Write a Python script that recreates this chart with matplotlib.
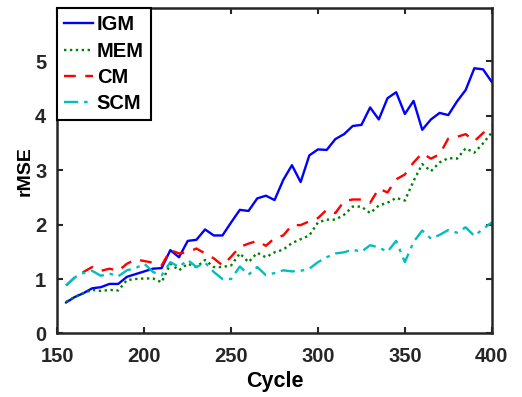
import matplotlib.pyplot as plt
import numpy as np

plt.rcParams['font.family'] = ['Liberation Sans', 'DejaVu Sans']
plt.rcParams['font.weight'] = 'bold'

# data (cycles 155..400, step 5)
cycles = np.arange(155, 401, 5)

igm = [0.57, 0.67, 0.74, 0.83, 0.85, 0.91, 0.91, 1.04, 1.09, 1.14,
       1.19, 1.20, 1.53, 1.40, 1.70, 1.72, 1.91, 1.80, 1.80, 2.04,
       2.27, 2.25, 2.48, 2.53, 2.45, 2.82, 3.09, 2.78, 3.27, 3.38,
       3.37, 3.57, 3.66, 3.81, 3.83, 4.15, 3.93, 4.32, 4.43, 4.03,
       4.27, 3.74, 3.93, 4.05, 4.01, 4.26, 4.47, 4.87, 4.85, 4.62]

mem = [0.58, 0.67, 0.74, 0.80, 0.78, 0.80, 0.79, 0.98, 1.00, 1.01,
       1.01, 0.94, 1.28, 1.16, 1.28, 1.22, 1.35, 1.22, 1.22, 1.25,
       1.47, 1.31, 1.48, 1.40, 1.49, 1.54, 1.66, 1.73, 1.80, 2.04,
       2.09, 2.09, 2.18, 2.33, 2.33, 2.21, 2.35, 2.40, 2.49, 2.44,
       2.80, 3.11, 2.98, 3.14, 3.22, 3.21, 3.40, 3.32, 3.49, 3.69]

cm = [0.88, 1.03, 1.13, 1.22, 1.15, 1.19, 1.15, 1.28, 1.36, 1.33,
      1.30, 1.25, 1.53, 1.47, 1.49, 1.56, 1.47, 1.38, 1.25, 1.41,
      1.59, 1.65, 1.70, 1.61, 1.75, 1.80, 1.99, 1.99, 2.06, 2.12,
      2.27, 2.21, 2.43, 2.46, 2.46, 2.40, 2.66, 2.59, 2.83, 2.92,
      3.14, 3.31, 3.21, 3.29, 3.58, 3.61, 3.66, 3.53, 3.68, 3.82]

scm = [0.88, 1.03, 1.11, 1.15, 1.06, 1.10, 1.05, 1.16, 1.20, 1.28,
       1.13, 1.07, 1.31, 1.22, 1.35, 1.22, 1.30, 1.13, 1.00, 1.00,
       1.23, 1.08, 1.22, 1.07, 1.11, 1.16, 1.14, 1.15, 1.19, 1.31,
       1.40, 1.47, 1.49, 1.54, 1.50, 1.62, 1.58, 1.50, 1.70, 1.31,
       1.68, 1.89, 1.74, 1.81, 1.90, 1.85, 1.95, 1.79, 1.92, 2.04]

fig = plt.figure(figsize=(5.22, 3.97), dpi=100)
ax = fig.add_axes([0.110, 0.160, 0.832, 0.819])

ax.plot(cycles, igm, color='#0000ff', lw=1.7, label='IGM')
ax.plot(cycles, mem, color='#008000', lw=1.7, ls=(0, (1, 1.5)), label='MEM')
ax.plot(cycles, cm, color='#ff0000', lw=1.7, ls=(0, (5, 4)), label='CM')
ax.plot(cycles, scm, color='#00bfbf', lw=1.7, ls=(0, (6, 2.5, 1.5, 2.5)), label='SCM')

ax.set_xlim(150, 400)
ax.set_ylim(0, 5.97)
ax.set_xticks([150, 200, 250, 300, 350, 400])
ax.set_yticks([0, 1, 2, 3, 4, 5])
ax.tick_params(direction='in', length=4, width=1.5, top=True, right=True,
               labelsize=14.5, colors='#262626')
ax.tick_params(axis='x', pad=10)
ax.tick_params(axis='y', pad=8)
for lab in ax.get_xticklabels() + ax.get_yticklabels():
    lab.set_fontweight('bold')
for s in ax.spines.values():
    s.set_linewidth(1.8)
    s.set_color('#262626')

ax.set_xlabel('Cycle', fontsize=15.5, fontweight='bold', labelpad=3)
ax.set_ylabel('rMSE', fontsize=14, fontweight='bold', labelpad=1)

leg = ax.legend(loc='upper left', fontsize=14.5, borderaxespad=0, fancybox=False,
                framealpha=1, edgecolor='black', handlelength=1.4,
                handletextpad=0.2, labelspacing=0.36, borderpad=0.35)
leg.get_frame().set_linewidth(1.5)
for t in leg.get_texts():
    t.set_fontweight('bold')

fig.savefig('out.png', dpi=100)
